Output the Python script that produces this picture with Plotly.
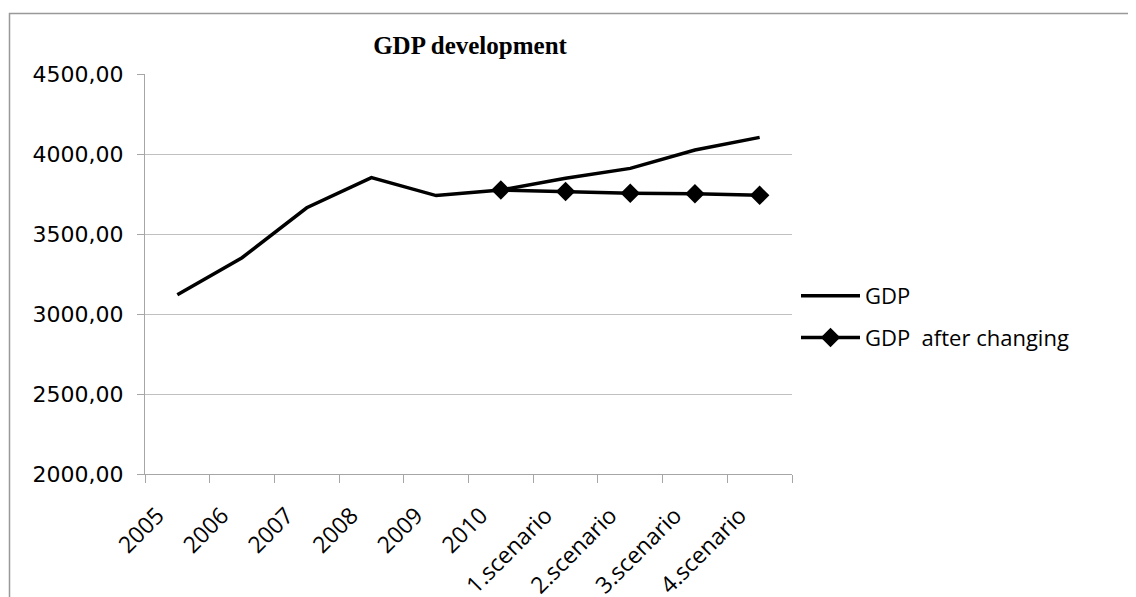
import plotly.graph_objects as go

categories = ["2005", "2006", "2007", "2008", "2009", "2010",
              "1.scenario", "2.scenario", "3.scenario", "4.scenario"]
gdp = [3120, 3352, 3664, 3852, 3740, 3775, 3848, 3910, 4025, 4104]
gdp_after = [None, None, None, None, None, 3775, 3765, 3754, 3752, 3742]
y_ticks = [2000, 2500, 3000, 3500, 4000, 4500]

W, H = 1136, 597
OFF = 8  # page body margin
L, R, T, B = 145 - OFF, 792 - OFF, 74 - OFF, 474 - OFF

fig = go.Figure()
fig.add_trace(go.Scatter(
    x=categories, y=gdp, name="GDP", mode="lines",
    line=dict(color="black", width=3.5), legendgroup="a"))
fig.add_trace(go.Scatter(
    x=categories, y=gdp_after, name="GDP  after changing", mode="lines+markers",
    line=dict(color="black", width=3.5),
    marker=dict(symbol="diamond", size=15, color="black"), legendgroup="b"))

def px_x(p):
    return (p - OFF - L) / (R - L)

def px_y(p):
    return (B - (p - OFF)) / (B - T)

fig.update_layout(
    width=W, height=H,
    margin=dict(l=L, r=W - R, t=T, b=H - B),
    paper_bgcolor="white", plot_bgcolor="white",
    separators=", ",
    title=dict(text="<b>GDP development</b>", x=(470 - OFF) / W,
               xanchor="center", y=1 - (45 - OFF) / H, yanchor="middle", yref="container",
               font=dict(family="Liberation Serif", size=25, color="black")),
    xaxis=dict(type="category", categoryorder="array", categoryarray=categories,
               range=[-0.5, len(categories) - 0.5],
               tickangle=-45, tickson="boundaries", ticks="outside", ticklen=8,
               tickcolor="#a6a6a6", showline=True, linecolor="#a6a6a6", linewidth=1,
               showgrid=False, automargin=False, ticklabelstandoff=18,
               ticklabelshift=-20,
               tickfont=dict(family="Open Sans", size=23, color="black")),
    yaxis=dict(range=[2000, 4500], tickvals=y_ticks, tickformat=".2f",
               ticks="outside", ticklen=7, tickcolor="#a6a6a6",
               showline=True, linecolor="#a6a6a6", linewidth=1,
               showgrid=True, gridcolor="#c0c0c0", gridwidth=1.3,
               zeroline=False, automargin=False, ticklabelstandoff=9,
               tickfont=dict(family="DejaVu Sans", size=22, color="black")),
    legend=dict(x=px_x(796), y=px_y(275), xanchor="left", yanchor="top",
                traceorder="grouped", tracegroupgap=10, itemwidth=59,
                bgcolor="rgba(0,0,0,0)",
                font=dict(family="Open Sans", size=22, color="black")),
    shapes=[dict(type="rect", xref="paper", yref="paper",
                 x0=px_x(9.5), x1=px_x(1150), y0=px_y(610), y1=px_y(13.5),
                 line=dict(color="#999999", width=1.5), fillcolor="rgba(0,0,0,0)",
                 layer="below")],
)

fig.write_html("out.html")
